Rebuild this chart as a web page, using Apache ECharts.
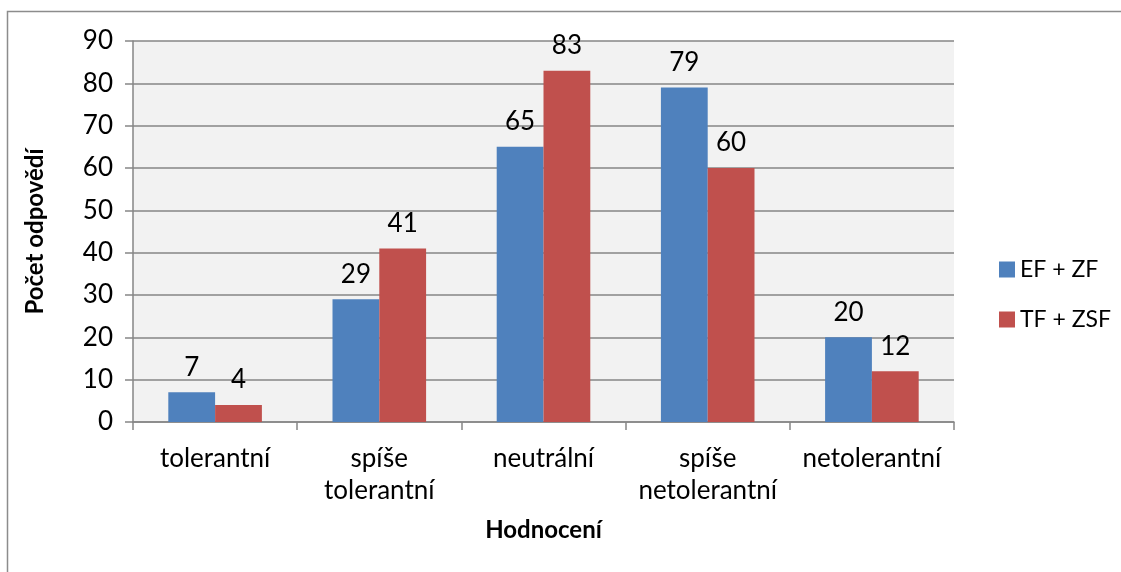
<!DOCTYPE html>
<html>
<head>
<meta charset="utf-8">
<script src="https://cdn.jsdelivr.net/npm/echarts@6/dist/echarts.min.js"></script>
<style>
  html, body { margin: 0; padding: 0; background: #fff; }
  #chart { width: 1121px; height: 572px; }
</style>
</head>
<body>
<div id="chart"></div>
<script>
// data
const categories = ["tolerantní", "spíše\ntolerantní", "neutrální", "spíše\nnetolerantní", "netolerantní"];
const efZf = [7, 29, 65, 79, 20];
const tfZsf = [4, 41, 83, 60, 12];
const yTicks = [0, 10, 20, 30, 40, 50, 60, 70, 80, 90];

const font = "Lato, 'Open Sans', sans-serif";

function initChart() {
  const chart = echarts.init(document.getElementById("chart"));
  const option = {
    animation: false,
    textStyle: { fontFamily: font },
    graphic: [
      {
        type: 'rect',
        shape: { x: 7.5, y: 11.5, width: 1300, height: 700 },
        style: { fill: 'none', stroke: '#8c8c8c', lineWidth: 1.5 },
        z: -10
      },
      {
        type: 'rect',
        shape: { x: 133, y: 41, width: 821, height: 381 },
        style: { fill: '#f2f2f2' },
        z: -5
      }
    ],
    legend: {
      orient: 'vertical',
      left: 994,
      top: 253,
      itemWidth: 16,
      itemHeight: 16,
      itemGap: 27,
      icon: 'rect',
      textStyle: { fontSize: 23, color: '#000', fontFamily: font },
      data: ["EF + ZF", "TF + ZSF"]
    },
    grid: { left: 133, right: 167, top: 41, bottom: 150, containLabel: false },
    xAxis: {
      type: 'category',
      data: categories,
      name: 'Hodnocení',
      nameLocation: 'middle',
      nameGap: 96,
      nameTextStyle: { fontSize: 24, fontWeight: 'bold', color: '#000' },
      axisLine: { lineStyle: { color: '#868686', width: 1.5 } },
      axisTick: { show: true, length: 8, alignWithLabel: false, lineStyle: { color: '#868686', width: 1.5 } },
      axisLabel: { fontSize: 26, color: '#000', margin: 21, lineHeight: 32, interval: 0 }
    },
    yAxis: {
      type: 'value',
      min: 0,
      max: yTicks[yTicks.length - 1],
      interval: 10,
      name: 'Počet odpovědí',
      nameLocation: 'middle',
      nameGap: 86,
      nameTextStyle: { fontSize: 24, fontWeight: 'bold', color: '#000' },
      axisLine: { show: true, lineStyle: { color: '#868686', width: 1.5 } },
      axisTick: { show: true, length: 8, lineStyle: { color: '#868686', width: 1.5 } },
      axisLabel: { fontSize: 26, color: '#000', margin: 20 },
      splitLine: { lineStyle: { color: '#868686', width: 1.5 } }
    },
    series: [
      {
        name: "EF + ZF",
        type: 'bar',
        data: efZf,
        barGap: '0%',
        barCategoryGap: '43%',
        itemStyle: { color: '#4f81bd' },
        label: { show: true, position: 'top', distance: 12, fontSize: 26, color: '#000' }
      },
      {
        name: "TF + ZSF",
        type: 'bar',
        data: tfZsf,
        itemStyle: { color: '#c0504d' },
        label: { show: true, position: 'top', distance: 12, fontSize: 26, color: '#000' }
      }
    ]
  };
  chart.setOption(option);
}

document.addEventListener("DOMContentLoaded", initChart);
</script>
</body>
</html>
